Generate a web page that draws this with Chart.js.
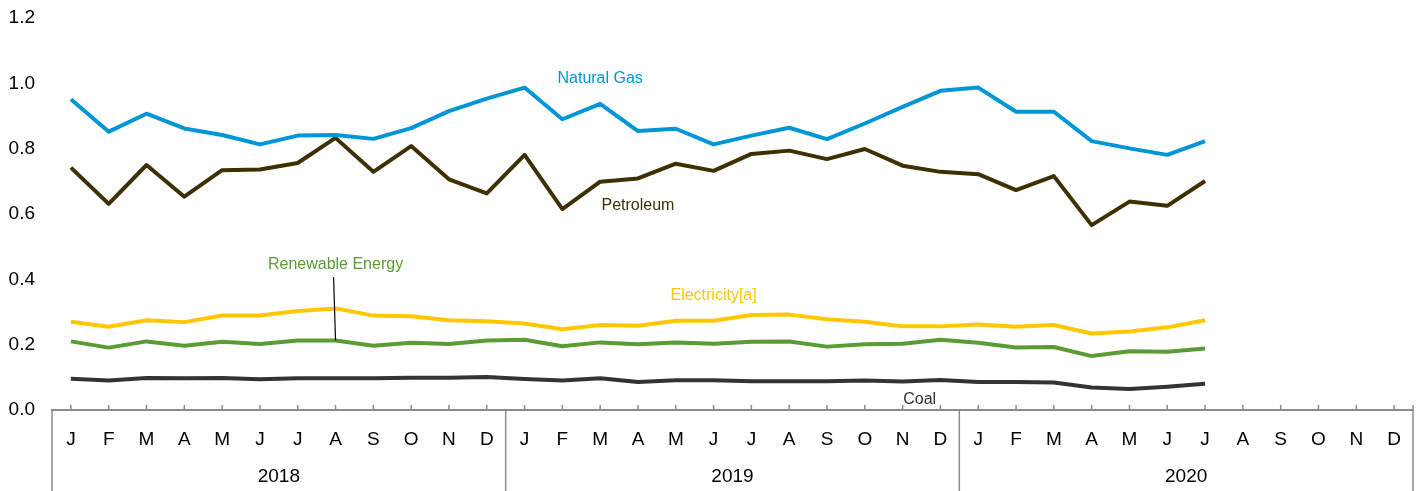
<!DOCTYPE html>
<html>
<head>
<meta charset="utf-8">
<script src="https://cdn.jsdelivr.net/npm/chart.js@4/dist/chart.umd.min.js"></script>
<style>
  html, body { margin: 0; padding: 0; background: #fff; }
  #wrap { width: 1421px; height: 491px; position: relative; }
</style>
</head>
<body>
<div id="wrap"><canvas id="chart"></canvas></div>
<script>
// Month axis (3 years) and year groups
const months = ["J","F","M","A","M","J","J","A","S","O","N","D"];
const years = ["2018", "2019", "2020"];
const yTicks = [0, 0.2, 0.4, 0.6, 0.8, 1.0, 1.2];

// Series values, Jan 2018 .. Jul 2020
const naturalGas = [0.951, 0.852, 0.907, 0.862, 0.842, 0.813, 0.840, 0.842, 0.830, 0.863, 0.915, 0.953,
                    0.987, 0.890, 0.937, 0.854, 0.861, 0.813, 0.840, 0.864, 0.829, 0.877, 0.928, 0.977,
                    0.987, 0.913, 0.913, 0.823, 0.801, 0.781, 0.823];
const petroleum = [0.742, 0.631, 0.750, 0.653, 0.734, 0.736, 0.756, 0.833, 0.729, 0.808, 0.706, 0.663,
                   0.781, 0.615, 0.699, 0.709, 0.754, 0.732, 0.784, 0.794, 0.768, 0.799, 0.748, 0.729,
                   0.722, 0.673, 0.716, 0.566, 0.638, 0.625, 0.701];
const electricity = [0.270, 0.255, 0.275, 0.269, 0.289, 0.289, 0.303, 0.311, 0.289, 0.287, 0.275, 0.272,
                     0.265, 0.247, 0.260, 0.258, 0.273, 0.273, 0.291, 0.292, 0.278, 0.270, 0.256, 0.256,
                     0.262, 0.255, 0.260, 0.234, 0.240, 0.253, 0.275];
const renewable = [0.210, 0.191, 0.210, 0.197, 0.209, 0.202, 0.213, 0.213, 0.197, 0.206, 0.202, 0.213,
                   0.215, 0.195, 0.207, 0.201, 0.207, 0.203, 0.209, 0.210, 0.194, 0.201, 0.203, 0.215,
                   0.206, 0.191, 0.193, 0.165, 0.180, 0.178, 0.188];
const coal = [0.096, 0.090, 0.098, 0.097, 0.098, 0.094, 0.097, 0.097, 0.097, 0.099, 0.099, 0.101,
              0.095, 0.090, 0.097, 0.086, 0.091, 0.091, 0.088, 0.088, 0.088, 0.090, 0.087, 0.092,
              0.086, 0.086, 0.084, 0.069, 0.064, 0.071, 0.080];

// Series labels, placed in data units (month index, value)
const labelNames = ["Natural Gas", "Petroleum", "Renewable Energy", "Electricity[a]", "Coal"];
const labelIdx = [14, 15, 7, 17, 22.45];
const labelVal = [1.016, 0.627, 0.444, 0.349, 0.031];
const labelColors = ["#0096d6", "#3d3104", "#5b9b33", "#ffc700", "#333333"];

const FONT = "'Liberation Sans', Arial, sans-serif";
const labels = [];
years.forEach(() => months.forEach(m => labels.push(m)));

// tick marks, year box and series labels
const extras = {
  id: "extras",
  afterDraw(chart) {
    const { ctx, chartArea, scales: { x, y } } = chart;
    const step = x.getPixelForValue(1) - x.getPixelForValue(0);
    const bottom = chartArea.bottom;
    ctx.save();
    ctx.strokeStyle = "#8c8c8c";
    ctx.lineWidth = 1.5;
    ctx.beginPath();
    labels.forEach((m, i) => {
      const px = x.getPixelForValue(i);
      ctx.moveTo(px, bottom - 5);
      ctx.lineTo(px, bottom);
    });
    const right = x.getPixelForValue(labels.length - 1) + step / 2;
    ctx.moveTo(right, bottom - 5);
    ctx.lineTo(right, bottom);
    for (let g = 0; g <= years.length; g++) {
      const px = x.getPixelForValue(g * 12) - step / 2;
      ctx.moveTo(px, bottom);
      ctx.lineTo(px, chart.height);
    }
    ctx.stroke();

    ctx.fillStyle = "#000";
    ctx.font = "19px " + FONT;
    ctx.textAlign = "center";
    ctx.textBaseline = "middle";
    years.forEach((yr, g) => {
      const cx = (x.getPixelForValue(g * 12) + x.getPixelForValue(g * 12 + 11)) / 2;
      ctx.fillText(yr, cx, bottom + 67);
    });

    ctx.font = "16px " + FONT;
    labelNames.forEach((t, i) => {
      ctx.fillStyle = labelColors[i];
      ctx.fillText(t, x.getPixelForValue(labelIdx[i]), y.getPixelForValue(labelVal[i]));
    });
    // leader line for Renewable Energy
    ctx.strokeStyle = "#000";
    ctx.lineWidth = 1.2;
    ctx.beginPath();
    ctx.moveTo(x.getPixelForValue(7) - 2, y.getPixelForValue(0.407));
    ctx.lineTo(x.getPixelForValue(7), y.getPixelForValue(renewable[7]));
    ctx.stroke();
    ctx.restore();
  }
};

function series(label, data, color) {
  return {
    label, data,
    borderColor: color,
    backgroundColor: color,
    borderWidth: 4,
    pointRadius: 0,
    tension: 0,
    fill: false,
    borderJoinStyle: "round"
  };
}

new Chart(document.getElementById("chart"), {
  type: "line",
  data: {
    labels: labels,
    datasets: [
      series("Coal", coal, "#333333"),
      series("Renewable Energy", renewable, "#5b9b33"),
      series("Electricity[a]", electricity, "#ffc700"),
      series("Natural Gas", naturalGas, "#0096d6"),
      series("Petroleum", petroleum, "#3d3104")
    ]
  },
  options: {
    responsive: true,
    maintainAspectRatio: false,
    animation: false,
    layout: { padding: { top: 18, right: 8, left: 0, bottom: 0 } },
    plugins: { legend: { display: false }, tooltip: { enabled: false } },
    scales: {
      x: {
        type: "category",
        offset: true,
        grid: { display: false, drawTicks: false },
        border: { display: true, color: "#8c8c8c", width: 2 },
        ticks: {
          autoSkip: false, maxRotation: 0, color: "#000", padding: 18,
          font: { family: FONT, size: 19 }
        },
        afterFit(scale) { scale.height = 81; }
      },
      y: {
        min: 0, max: 1.2,
        grid: { display: false, drawTicks: false },
        border: { display: false },
        afterBuildTicks(scale) { scale.ticks = yTicks.map(v => ({ value: v })); },
        ticks: {
          color: "#000", padding: 17,
          font: { family: FONT, size: 19 },
          callback: v => v.toFixed(1)
        },
        afterFit(scale) {
          scale.width = 52;
          scale.paddingTop = 0;
          scale.paddingBottom = 0;
        }
      }
    }
  },
  plugins: [extras]
});
</script>
</body>
</html>
